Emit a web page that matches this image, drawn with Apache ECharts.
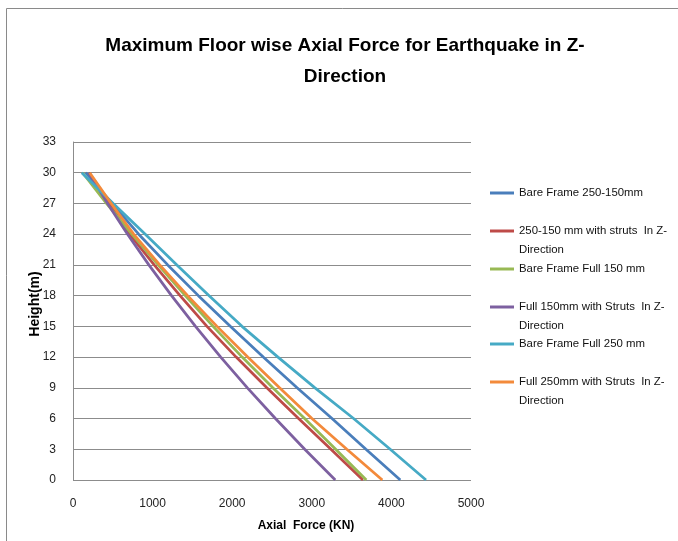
<!DOCTYPE html>
<html>
<head>
<meta charset="utf-8">
<script src="https://cdn.jsdelivr.net/npm/echarts@6/dist/echarts.min.js"></script>
<style>
  html, body { margin: 0; padding: 0; background: #fff; }
  #chart { width: 678px; height: 541px; }
</style>
</head>
<body>
<div id="chart"></div>
<script>
// Storey heights (m), top of building down to the base
const heights = [30, 27, 24, 21, 18, 15, 12, 9, 6, 3, 0];

// Maximum axial force (KN) at each height
const bareFrame250_150 = [160, 490, 825, 1190, 1575, 1976, 2390, 2815, 3254, 3680, 4112];
const struts250_150    = [200, 455, 711, 1020, 1345, 1683, 2050, 2435, 2834, 3240, 3643];
const bareFull150      = [120, 420, 740, 1070, 1410, 1760, 2125, 2510, 2910, 3300, 3685];
const strutsFull150    = [200, 434, 685, 953, 1238, 1539, 1856, 2191, 2543, 2911, 3295];
const bareFull250      = [110, 505, 908, 1305, 1710, 2123, 2575, 3040, 3525, 3985, 4435];
const strutsFull250    = [210, 480, 762, 1090, 1440, 1809, 2195, 2595, 3002, 3440, 3886];

const seriesNames = [
  'Bare Frame 250-150mm',
  '250-150 mm with struts  In Z-\nDirection',
  'Bare Frame Full 150 mm',
  'Full 150mm with Struts  In Z-\nDirection',
  'Bare Frame Full 250 mm',
  'Full 250mm with Struts  In Z-\nDirection'
];
const seriesValues = [bareFrame250_150, struts250_150, bareFull150, strutsFull150, bareFull250, strutsFull250];
const seriesColors = ['#4A7EBB', '#BE4B48', '#98B954', '#7D60A0', '#46AAC5', '#F38A3B'];

const xTicks = [0, 1000, 2000, 3000, 4000, 5000];
const yTicks = [0, 3, 6, 9, 12, 15, 18, 21, 24, 27, 30, 33];

const FONT = '"Liberation Sans Narrow", "Arial Narrow", "Liberation Sans", Arial, sans-serif';

const chart = echarts.init(document.getElementById('chart'), null, { renderer: 'canvas' });

// one legend block per series; the key line sits beside the first text line
const LEGEND_LINE_H = 19;
const legendCenters = [193, 231, 269, 307, 344, 382];
const legends = seriesNames.map((name, i) => {
  const twoLine = name.indexOf('\n') >= 0;
  const blockH = (twoLine ? 3 : 1) * LEGEND_LINE_H;
  return {
    data: [name],
    orient: 'vertical',
    left: 490,
    top: legendCenters[i] - blockH / 2,
    padding: 0,
    icon: 'rect',
    itemWidth: 24,
    itemHeight: 3,
    itemGap: 0,
    selectedMode: false,
    formatter: n => (n.indexOf('\n') >= 0 ? '\n' + n : n),
    textStyle: {
      fontFamily: FONT,
      fontSize: 11.4,
      color: '#111',
      lineHeight: LEGEND_LINE_H
    }
  };
});

chart.setOption({
  animation: false,
  backgroundColor: '#fff',
  title: {
    text: 'Maximum Floor wise Axial Force for Earthquake in Z-\nDirection',
    left: 340,
    top: 25,
    textAlign: 'center',
    textStyle: {
      fontFamily: FONT,
      fontSize: 19,
      fontWeight: 'bold',
      color: '#000',
      lineHeight: 31
    }
  },
  graphic: [{
    type: 'rect',
    shape: { x: 6.5, y: 8.5, width: 720, height: 600 },
    style: { fill: 'none', stroke: '#8a8a8a', lineWidth: 1 },
    silent: true
  }],
  legend: legends,
  grid: { left: 73, top: 142, width: 398, height: 338, containLabel: false },
  xAxis: {
    type: 'value',
    min: xTicks[0],
    max: xTicks[xTicks.length - 1],
    interval: 1000,
    name: 'Axial  Force (KN)',
    nameLocation: 'middle',
    nameGap: 40,
    nameMoveOverlap: false,
    nameTextStyle: {
      fontFamily: FONT, fontSize: 12, fontWeight: 'bold', color: '#000',
      padding: [0, 0, 0, 68]
    },
    axisLine: { show: false },
    axisTick: { show: false },
    splitLine: { show: false },
    axisLabel: {
      fontFamily: FONT, fontSize: 12, color: '#222', margin: 18,
      formatter: v => String(v)
    }
  },
  yAxis: {
    type: 'value',
    min: yTicks[0],
    max: yTicks[yTicks.length - 1],
    interval: 3,
    name: 'Height(m)',
    nameLocation: 'middle',
    nameGap: 31,
    nameMoveOverlap: false,
    nameRotate: 90,
    nameTextStyle: {
      fontFamily: FONT, fontSize: 14, fontWeight: 'bold', color: '#000',
      padding: [0, 0, 0, 14]
    },
    axisLine: { show: true, lineStyle: { color: '#8c8c8c', width: 1 } },
    axisTick: { show: false },
    splitLine: { show: true, lineStyle: { color: '#8c8c8c', width: 1 } },
    axisLabel: {
      fontFamily: FONT, fontSize: 12, color: '#222', margin: 17,
      formatter: v => String(v)
    }
  },
  series: seriesNames.map((name, i) => ({
    name: name,
    type: 'line',
    data: heights.map((h, k) => [seriesValues[i][k], h]),
    symbol: 'none',
    smooth: false,
    lineStyle: { color: seriesColors[i], width: 2.75 },
    itemStyle: { color: seriesColors[i] },
    z: 2 + i
  }))
});
</script>
</body>
</html>
